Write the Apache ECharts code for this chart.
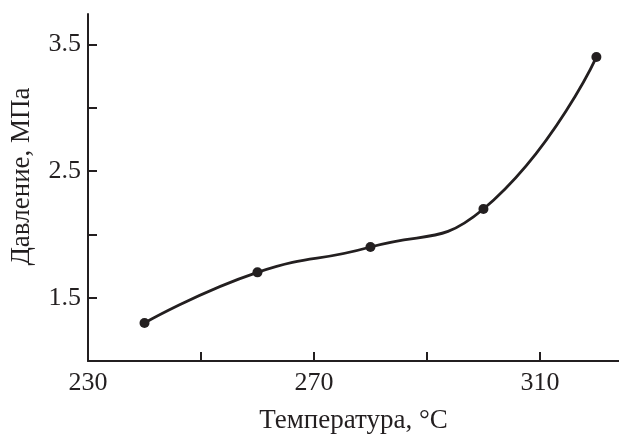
<!DOCTYPE html>
<html>
<head>
<meta charset="utf-8">
<script src="https://cdn.jsdelivr.net/npm/echarts@6/dist/echarts.min.js"></script>
<style>html,body{margin:0;padding:0;background:#fff;}#c{width:619px;height:436px;}</style>
</head>
<body>
<div id="c"></div>
<script>
const temperatures = [240, 260, 280, 300, 320];
const pressures = [1.30, 1.70, 1.90, 2.20, 3.40];
const xTicks = [230, 250, 270, 290, 310];
const xLabels = [230, 270, 310];
const yTicks = [1.0, 1.5, 2.0, 2.5, 3.0, 3.5];
const yLabels = [1.5, 2.5, 3.5];

const ink = '#231f20';
const font = 'Liberation Serif';
const chart = echarts.init(document.getElementById('c'), null, {renderer: 'canvas'});
chart.setOption({
  animation: false,
  grid: {left: 88, right: 0, top: 14, bottom: 75, containLabel: false, outerBoundsMode: 'none'},
  xAxis: {
    type: 'value', min: 230, max: 324, interval: 20,
    name: 'Температура, °C', nameLocation: 'middle', nameGap: 46,
    nameTextStyle: {fontFamily: font, fontSize: 27, color: ink},
    axisLine: {show: true, lineStyle: {color: ink, width: 2}},
    axisTick: {show: true, inside: true, length: 9, customValues: xTicks, lineStyle: {color: ink, width: 2}},
    axisLabel: {
      fontFamily: font, fontSize: 26, color: ink, margin: 9,
      customValues: xLabels,
      formatter: v => String(v)
    },
    splitLine: {show: false}
  },
  yAxis: {
    type: 'value', min: 1.0, max: 3.74, interval: 0.5,
    name: 'Давление, МПа', nameLocation: 'middle', nameGap: 53,
    nameTextStyle: {fontFamily: font, fontSize: 27, color: ink, padding: [0, 0, 0, 22]},
    axisLine: {show: true, lineStyle: {color: ink, width: 2}},
    axisTick: {show: true, inside: true, length: 9, customValues: yTicks, lineStyle: {color: ink, width: 2}},
    axisLabel: {
      fontFamily: font, fontSize: 26, color: ink, margin: 7,
      customValues: yLabels,
      formatter: v => Number(v).toFixed(1)
    },
    splitLine: {show: false}
  },
  series: [{
    type: 'line',
    data: temperatures.map((t, i) => [t, pressures[i]]),
    smooth: 0.5,
    symbol: 'circle', symbolSize: 10,
    lineStyle: {color: ink, width: 2.8},
    itemStyle: {color: ink}
  }]
});
</script>
</body>
</html>
